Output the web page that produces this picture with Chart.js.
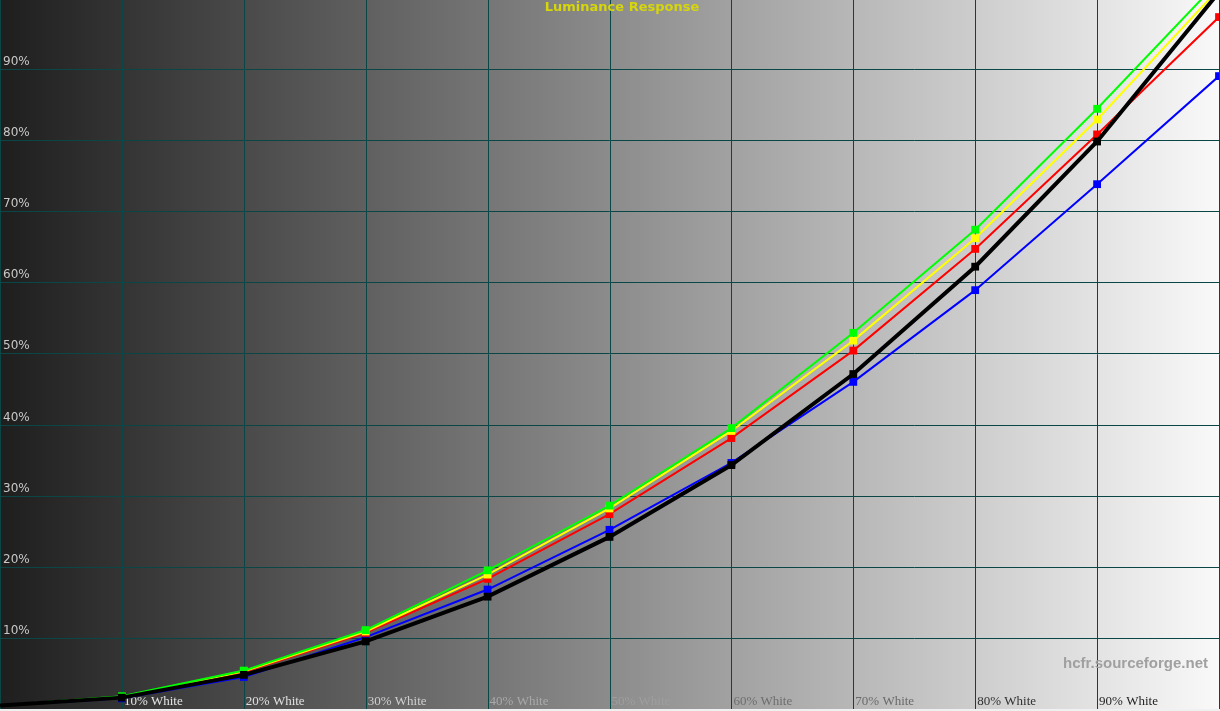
<!DOCTYPE html>
<html>
<head>
<meta charset="utf-8">
<title>Luminance Response</title>
<script src="https://cdn.jsdelivr.net/npm/chart.js@4.4.1/dist/chart.umd.min.js"></script>
<style>
  html, body { margin: 0; padding: 0; background: #f0f0f0; }
  #wrap { width: 1220px; height: 711px; }
</style>
</head>
<body>
<div id="wrap"><canvas id="lumChart" width="1220" height="711"></canvas></div>
<script>
// Chart values
const whiteLevels = [0, 10, 20, 30, 40, 50, 60, 70, 80, 90, 100];
const greenLum = [0.5, 1.8, 5.4, 11.1, 19.5, 28.6, 39.5, 52.9, 67.4, 84.4, 102.4];
const yellowLum = [0.5, 1.7, 5.3, 10.9, 18.9, 28.2, 39.1, 51.8, 66.2, 82.9, 101.3];
const redLum = [0.5, 1.7, 5.2, 10.7, 18.3, 27.4, 38.1, 50.4, 64.7, 80.8, 97.3];
const blueLum = [0.5, 1.5, 4.5, 10.1, 16.8, 25.2, 34.6, 46.0, 58.9, 73.8, 89.0];
const refLum = [0.5, 1.6, 4.8, 9.5, 15.8, 24.2, 34.3, 47.1, 62.2, 79.8, 100.8];

const xLabels = ["10% White", "20% White", "30% White", "40% White", "50% White",
  "60% White", "70% White", "80% White", "90% White"];
const xLabelColors = ["#e4e4e4", "#e0e0e0", "#cfcfcf", "#a9a9a9", "#9e9e9e",
  "#6e6e6e", "#6a6a6a", "#303030", "#1e1e1e"];
const yTickValues = [10, 20, 30, 40, 50, 60, 70, 80, 90];

document.addEventListener("DOMContentLoaded", function () {
  const toPoints = (vals) => vals.map((v, i) => ({ x: whiteLevels[i], y: v }));
  // no marker at the black point
  const markerSizes = whiteLevels.map((w) => (w === 0 ? 0 : 5.5));

  const line = (label, vals, color, width, order) => ({
    label: label,
    data: toPoints(vals),
    borderColor: color,
    backgroundColor: color,
    borderWidth: width,
    pointStyle: "rect",
    pointRadius: markerSizes,
    pointBorderWidth: 0,
    pointBackgroundColor: color,
    tension: 0,
    order: order,
  });

  // Background gradient, grid and labels
  const hcfrLook = {
    id: "hcfrLook",
    beforeDraw(chart) {
      const { ctx, chartArea: a, scales } = chart;
      ctx.save();
      ctx.fillStyle = "#f0f0f0";
      ctx.fillRect(0, 0, chart.width, chart.height);
      const grad = ctx.createLinearGradient(a.left, 0, a.right, 0);
      grad.addColorStop(0, "#1e1e1e");
      grad.addColorStop(1, "#f9f9f9");
      ctx.fillStyle = grad;
      ctx.fillRect(a.left, a.top, a.right - a.left, a.bottom - a.top);

      ctx.strokeStyle = "#0a4646";
      ctx.lineWidth = 1;
      ctx.beginPath();
      whiteLevels.forEach((w) => {
        const px = Math.round(scales.x.getPixelForValue(w)) + 0.5;
        ctx.moveTo(px, a.top);
        ctx.lineTo(px, a.bottom);
      });
      yTickValues.forEach((v) => {
        const py = Math.round(scales.y.getPixelForValue(v)) + 0.5;
        ctx.moveTo(a.left, py);
        ctx.lineTo(a.right, py);
      });
      ctx.stroke();

      // y labels sit just above their grid line
      ctx.font = "12px 'DejaVu Sans'";
      ctx.fillStyle = "#c8c8c8";
      ctx.textAlign = "left";
      ctx.textBaseline = "alphabetic";
      yTickValues.forEach((v) => {
        const py = scales.y.getPixelForValue(v);
        ctx.fillText(v + "%", a.left + 3, py - 4);
      });

      // x labels at the bottom, right of each grid line
      ctx.font = "13px 'Liberation Serif'";
      xLabels.forEach((t, i) => {
        const px = scales.x.getPixelForValue(whiteLevels[i + 1]);
        ctx.fillStyle = xLabelColors[i];
        ctx.fillText(t, px + 2, a.bottom - 4);
      });

      ctx.font = "bold 15px 'Liberation Sans'";
      ctx.fillStyle = "#a0a0a0";
      ctx.textAlign = "right";
      ctx.fillText("hcfr.sourceforge.net", a.right - 11, 668);
      ctx.restore();
    },
    afterDraw(chart) {
      const { ctx } = chart;
      ctx.save();
      ctx.font = "bold 13px 'DejaVu Sans'";
      ctx.fillStyle = "#d6d60a";
      ctx.textAlign = "center";
      ctx.textBaseline = "top";
      ctx.fillText("Luminance Response", 622, 1);
      ctx.restore();
    },
  };

  const ctx = document.getElementById("lumChart").getContext("2d");
  new Chart(ctx, {
    type: "line",
    data: {
      datasets: [
        line("Reference", refLum, "#000000", 4, 0),
        line("Green", greenLum, "#00ff00", 2, 1),
        line("Yellow", yellowLum, "#ffff00", 2, 2),
        line("Red", redLum, "#ff0000", 2, 3),
        line("Blue", blueLum, "#0000ff", 2, 4),
      ],
    },
    options: {
      responsive: false,
      animation: false,
      layout: { autoPadding: false, padding: { left: 0, top: 0, right: 1, bottom: 2 } },
      scales: {
        x: { type: "linear", min: 0, max: 100, display: false },
        y: { type: "linear", min: 0, max: 99.7, display: false },
      },
      plugins: {
        legend: { display: false },
        tooltip: { enabled: false },
      },
    },
    plugins: [hcfrLook],
  });
});
</script>
</body>
</html>
